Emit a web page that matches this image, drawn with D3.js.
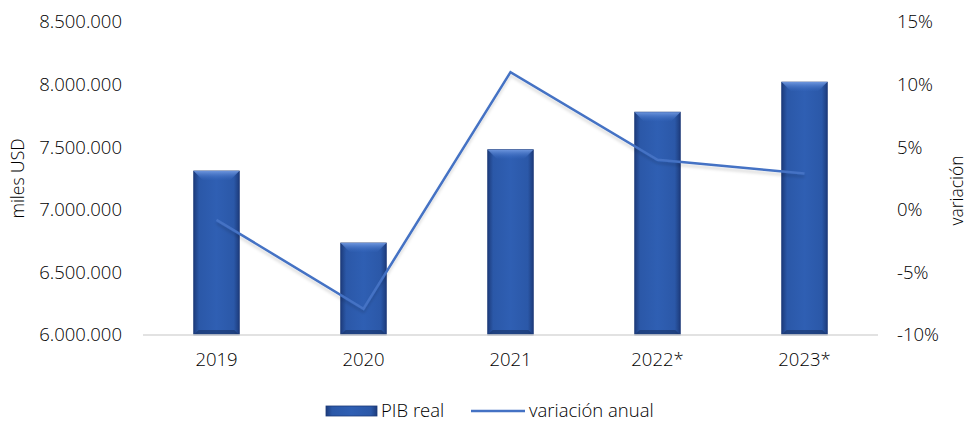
<!DOCTYPE html>
<html>
<head>
<meta charset="utf-8">
<script src="https://cdn.jsdelivr.net/npm/d3@7"></script>
<style>
  body { margin: 0; background: #fff; }
  text { font-family: "Open Sans", sans-serif; font-weight: 300; fill: #000; }
</style>
</head>
<body>
<div id="wrapper"></div>
<script>
const years = ["2019", "2020", "2021", "2022*", "2023*"];
const pibReal = [7310000, 6735000, 7480000, 7780000, 8020000];
const variacion = [-0.8, -7.9, 11.0, 4.0, 2.9];
const leftTicks = [6000000, 6500000, 7000000, 7500000, 8000000, 8500000];
const rightTicks = [-10, -5, 0, 5, 10, 15];

function drawChart() {
  const dimensions = {
    width: 971,
    height: 421,
    margins: { top: 22, left: 143, bottom: 86, right: 93 }
  };
  dimensions.boundedWidth = dimensions.width - dimensions.margins.left - dimensions.margins.right;
  dimensions.boundedHeight = dimensions.height - dimensions.margins.top - dimensions.margins.bottom;

  const svg = d3.select("#wrapper").append("svg")
    .attr("width", dimensions.width)
    .attr("height", dimensions.height);

  const defs = svg.append("defs");
  // bar shading: dark edges, brighter middle
  const hGrad = defs.append("linearGradient").attr("id", "barH")
    .attr("x1", 0).attr("x2", 1).attr("y1", 0).attr("y2", 0);
  [["0%", "#1d3c7c"], ["12%", "#2b58a8"], ["50%", "#2f5fb3"], ["88%", "#2b58a8"], ["100%", "#1d3c7c"]]
    .forEach(([o, c]) => hGrad.append("stop").attr("offset", o).attr("stop-color", c));
  const topGrad = defs.append("linearGradient").attr("id", "barTop")
    .attr("x1", 0).attr("x2", 0).attr("y1", 0).attr("y2", 1);
  [["0%", "#7199e0", 0.95], ["100%", "#3a6cc4", 0.1]]
    .forEach(([o, c, op]) => topGrad.append("stop").attr("offset", o).attr("stop-color", c).attr("stop-opacity", op));
  const shadow = defs.append("filter").attr("id", "lineShadow")
    .attr("x", "-10%").attr("y", "-10%").attr("width", "120%").attr("height", "130%");
  shadow.append("feDropShadow").attr("dx", 0).attr("dy", 3).attr("stdDeviation", 1.5)
    .attr("flood-color", "#000").attr("flood-opacity", 0.15);

  const bounds = svg.append("g")
    .attr("transform", `translate(${dimensions.margins.left},${dimensions.margins.top})`);

  const xScale = d3.scaleBand()
    .domain(years)
    .range([0, dimensions.boundedWidth])
    .paddingInner(0.69)
    .paddingOuter(0.345);

  const yScale = d3.scaleLinear()
    .domain([6000000, 8500000])
    .range([dimensions.boundedHeight, 0]);

  const y2Scale = d3.scaleLinear()
    .domain([-10, 15])
    .range([dimensions.boundedHeight, 0]);

  // bars
  const bars = bounds.selectAll(".bar").data(years).join("g").attr("class", "bar");
  bars.append("rect")
    .attr("x", d => xScale(d))
    .attr("y", (d, i) => yScale(pibReal[i]))
    .attr("width", xScale.bandwidth())
    .attr("height", (d, i) => dimensions.boundedHeight - yScale(pibReal[i]))
    .attr("fill", "url(#barH)")
    .attr("stroke", "#1c3a78")
    .attr("stroke-width", 0.8);
  // top bevel
  bars.append("path")
    .attr("d", (d, i) => {
      const x0 = xScale(d), w = xScale.bandwidth(), y0 = yScale(pibReal[i]), b = 9;
      return `M${x0},${y0}L${x0 + w},${y0}L${x0 + w - b},${y0 + b}L${x0 + b},${y0 + b}Z`;
    })
    .attr("fill", "url(#barTop)");
  // bottom bevel
  bars.append("path")
    .attr("d", (d, i) => {
      const x0 = xScale(d), w = xScale.bandwidth(), y0 = dimensions.boundedHeight, b = 5;
      return `M${x0},${y0}L${x0 + w},${y0}L${x0 + w - b},${y0 - b}L${x0 + b},${y0 - b}Z`;
    })
    .attr("fill", "#173266").attr("opacity", 0.6);

  // x axis line
  bounds.append("line")
    .attr("x1", 0).attr("x2", dimensions.boundedWidth)
    .attr("y1", dimensions.boundedHeight).attr("y2", dimensions.boundedHeight)
    .attr("stroke", "#d9d9d9").attr("stroke-width", 1.5);

  // line series
  const lineGenerator = d3.line()
    .x((d, i) => xScale(years[i]) + xScale.bandwidth() / 2)
    .y(d => y2Scale(d));
  bounds.append("path")
    .attr("d", lineGenerator(variacion))
    .attr("fill", "none")
    .attr("stroke", "#4472c4")
    .attr("stroke-width", 2.5)
    .attr("stroke-linejoin", "miter")
    .attr("filter", "url(#lineShadow)");

  // axes
  const fmtMiles = d => d3.format(",")(d).replace(/,/g, ".");
  const yAxis = bounds.append("g")
    .call(d3.axisLeft(yScale).tickValues(leftTicks).tickFormat(fmtMiles).tickSize(0).tickPadding(21));
  yAxis.select(".domain").remove();
  yAxis.selectAll("text").attr("font-size", 18.5).attr("fill", "#000").attr("font-family", null);

  const y2Axis = bounds.append("g")
    .attr("transform", `translate(${dimensions.boundedWidth},0)`)
    .call(d3.axisRight(y2Scale).tickValues(rightTicks).tickFormat(d => d + "%").tickSize(0).tickPadding(19));
  y2Axis.select(".domain").remove();
  y2Axis.selectAll("text").attr("font-size", 18.5).attr("fill", "#000").attr("font-family", null);

  const xAxis = bounds.append("g")
    .attr("transform", `translate(0,${dimensions.boundedHeight})`)
    .call(d3.axisBottom(xScale).tickSize(0).tickPadding(18));
  xAxis.select(".domain").remove();
  xAxis.selectAll("text").attr("font-size", 18.5).attr("fill", "#000").attr("font-family", null);

  // axis titles
  svg.append("text")
    .attr("transform", `translate(24,${dimensions.margins.top + dimensions.boundedHeight / 2}) rotate(-90)`)
    .attr("text-anchor", "middle")
    .attr("font-size", 17.5)
    .text("miles USD");
  svg.append("text")
    .attr("transform", `translate(963,${dimensions.margins.top + dimensions.boundedHeight / 2 + 12}) rotate(-90)`)
    .attr("text-anchor", "middle")
    .attr("font-size", 17.5)
    .text("variación");

  // legend
  const legend = svg.append("g").attr("transform", "translate(326,411)");
  legend.append("rect")
    .attr("x", 0).attr("y", -5).attr("width", 51).attr("height", 10)
    .attr("fill", "url(#barH)").attr("stroke", "#1c3a78").attr("stroke-width", 0.8);
  legend.append("text").attr("x", 55).attr("y", 0).attr("dy", "0.35em")
    .attr("font-size", 18.5).text("PIB real");
  legend.append("line")
    .attr("x1", 145).attr("x2", 199).attr("y1", 0).attr("y2", 0)
    .attr("stroke", "#4472c4").attr("stroke-width", 2.5);
  legend.append("text").attr("x", 203).attr("y", 0).attr("dy", "0.35em")
    .attr("font-size", 18.5).text("variación anual");
}

drawChart();
</script>
</body>
</html>
